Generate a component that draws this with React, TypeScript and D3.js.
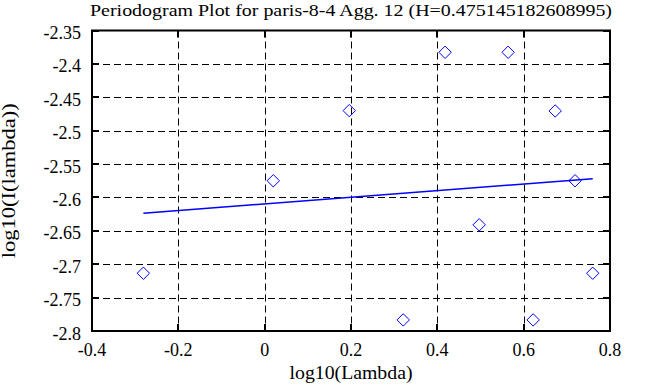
import * as d3 from 'd3';
import { useEffect, useRef } from 'react';

const title = 'Periodogram Plot for paris-8-4 Agg. 12 (H=0.475145182608995)';
const xLabel = 'log10(Lambda)';
const yLabel = 'log10(I(lambda))';

// periodogram points
const logLambda = [-0.281, 0.020, 0.196, 0.321, 0.418, 0.497, 0.564, 0.622, 0.673, 0.719, 0.760];
const logI = [-2.7135, -2.575, -2.470, -2.7834, -2.3826, -2.641, -2.3826, -2.7834, -2.4705, -2.575, -2.7135];

// least squares fit
const fitX = [-0.281, 0.760];
const fitY = [-2.6237, -2.5720];

const xTicks = [-0.4, -0.2, 0, 0.2, 0.4, 0.6, 0.8];
const yTicks = [-2.35, -2.4, -2.45, -2.5, -2.55, -2.6, -2.65, -2.7, -2.75, -2.8];

const W = 657, H = 387;
const left = 92, right = 610, top = 30.5, bottom = 331;
const font = '"Liberation Serif", "DejaVu Serif", serif';

const App = () => {
    const svgRef = useRef<SVGSVGElement>(null);

    useEffect(() => {
        document.body.style.margin = '0';
        const svg = d3.select(svgRef.current);
        svg.selectAll('*').remove();

        const x = d3.scaleLinear().domain([-0.4, 0.8]).range([left, right]);
        const y = d3.scaleLinear().domain([-2.8, -2.35]).range([bottom, top]);

        svg.append('rect').attr('width', W).attr('height', H).attr('fill', '#fff');

        // grid
        const grid = svg.append('g').attr('stroke', '#000').attr('stroke-width', 1).attr('stroke-dasharray', '7,4');
        grid.selectAll('.gx')
            .data(xTicks.slice(1, -1))
            .enter()
            .append('line')
            .attr('x1', d => Math.round(x(d)) + 0.5)
            .attr('x2', d => Math.round(x(d)) + 0.5)
            .attr('y1', top)
            .attr('y2', bottom);
        grid.selectAll('.gy')
            .data(yTicks.slice(1, -1))
            .enter()
            .append('line')
            .attr('y1', d => Math.round(y(d)) + 0.5)
            .attr('y2', d => Math.round(y(d)) + 0.5)
            .attr('x1', left)
            .attr('x2', right);

        // inward ticks on all sides
        const ticks = svg.append('g').attr('stroke', '#000').attr('stroke-width', 2);
        xTicks.forEach(t => {
            const px = Math.round(x(t));
            ticks.append('line').attr('x1', px).attr('x2', px).attr('y1', bottom).attr('y2', bottom - 7);
            ticks.append('line').attr('x1', px).attr('x2', px).attr('y1', top).attr('y2', top + 7);
        });
        yTicks.forEach(t => {
            const py = Math.round(y(t));
            ticks.append('line').attr('y1', py).attr('y2', py).attr('x1', left).attr('x2', left + 7);
            ticks.append('line').attr('y1', py).attr('y2', py).attr('x1', right).attr('x2', right - 7);
        });

        // frame
        svg.append('rect')
            .attr('x', left)
            .attr('y', top)
            .attr('width', right - left)
            .attr('height', bottom - top)
            .attr('fill', 'none')
            .attr('stroke', '#000')
            .attr('stroke-width', 2);

        // fit line
        const line = d3.line<number>().x(d => x(d)).y((d, i) => y(fitY[i]));
        svg.append('path')
            .attr('d', line(fitX))
            .attr('fill', 'none')
            .attr('stroke', '#0000ff')
            .attr('stroke-width', 1.5);

        // diamonds
        const sym = d3.symbol().type(d3.symbolDiamond2).size(98);
        svg.selectAll('.pt')
            .data(logLambda)
            .enter()
            .append('path')
            .attr('d', sym)
            .attr('transform', (d, i) => `translate(${x(d)},${y(logI[i])})`)
            .attr('fill', 'none')
            .attr('stroke', '#0000ff')
            .attr('stroke-width', 1);

        // tick labels
        svg.selectAll('.xl')
            .data(xTicks)
            .enter()
            .append('text')
            .attr('x', d => x(d))
            .attr('y', 356)
            .attr('text-anchor', 'middle')
            .attr('font-family', font)
            .attr('font-size', 18)
            .text(d => String(d));
        svg.selectAll('.yl')
            .data(yTicks)
            .enter()
            .append('text')
            .attr('x', 81)
            .attr('y', d => y(d) + 8.5)
            .attr('text-anchor', 'end')
            .attr('font-family', font)
            .attr('font-size', 18)
            .text(d => String(d));

        svg.append('text')
            .attr('x', (left + right) / 2)
            .attr('y', 16)
            .attr('text-anchor', 'middle')
            .attr('font-family', font)
            .attr('font-size', 16)
            .attr('textLength', 522)
            .attr('lengthAdjust', 'spacingAndGlyphs')
            .text(title);
        svg.append('text')
            .attr('x', (left + right) / 2)
            .attr('y', 379)
            .attr('text-anchor', 'middle')
            .attr('font-family', font)
            .attr('font-size', 18)
            .attr('textLength', 123)
            .attr('lengthAdjust', 'spacingAndGlyphs')
            .text(xLabel);
        svg.append('text')
            .attr('transform', `translate(15,${(top + bottom) / 2}) rotate(-90)`)
            .attr('text-anchor', 'middle')
            .attr('font-family', font)
            .attr('font-size', 18)
            .attr('textLength', 155)
            .attr('lengthAdjust', 'spacingAndGlyphs')
            .text(yLabel);
    }, []);

    return <svg ref={svgRef} width={W} height={H} style={{ display: 'block' }}></svg>;
};

export default App;
